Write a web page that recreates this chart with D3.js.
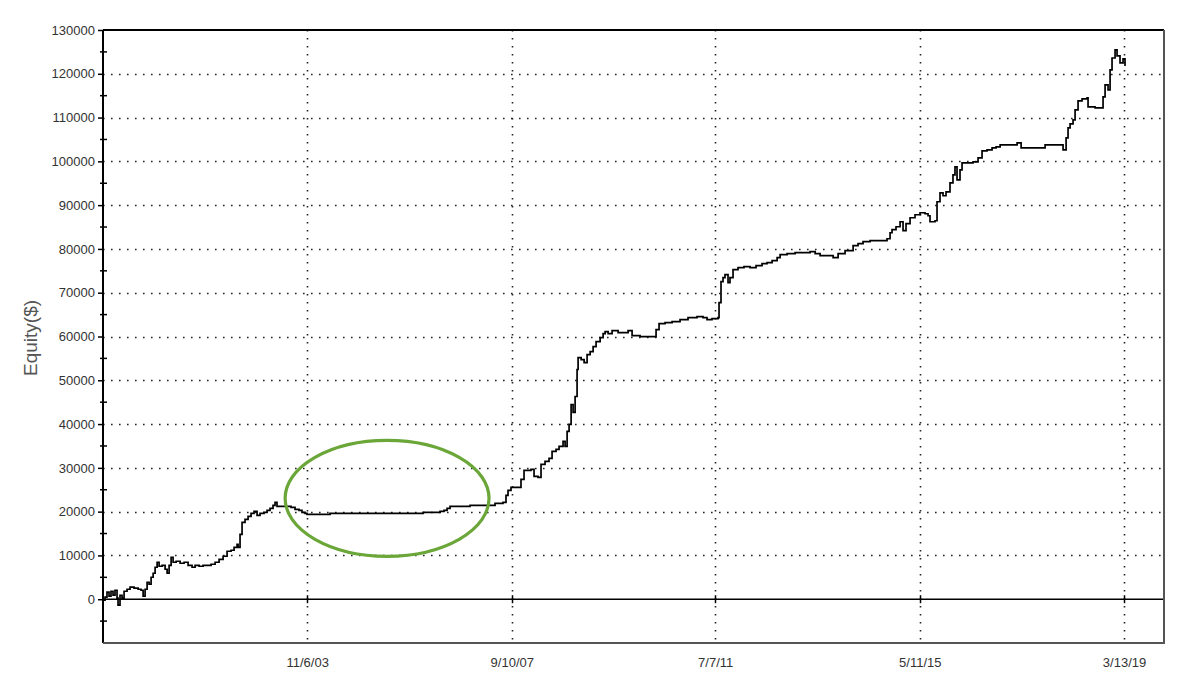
<!DOCTYPE html>
<html>
<head>
<meta charset="utf-8">
<script src="https://cdn.jsdelivr.net/npm/d3@7"></script>
<style>
  html, body { margin: 0; padding: 0; background: #fff; }
  svg { display: block; }
  text { font-family: "Liberation Sans", Arial, sans-serif; }
</style>
</head>
<body>
<svg id="chart" width="1196" height="683"></svg>
<script>
// ---- data (decimal years and equity in $) ----
const years = [
  2000.010, 2000.048, 2000.085, 2000.123, 2000.160, 2000.198, 2000.235, 2000.273, 2000.292, 2000.329,
  2000.367, 2000.405, 2000.461, 2000.517, 2000.592, 2000.668, 2000.724, 2000.762, 2000.799, 2000.837,
  2000.874, 2000.912, 2000.950, 2000.987, 2001.025, 2001.062, 2001.119, 2001.175, 2001.213, 2001.250,
  2001.288, 2001.325, 2001.382, 2001.457, 2001.532, 2001.607, 2001.682, 2001.739, 2001.814, 2001.889,
  2001.964, 2002.039, 2002.115, 2002.190, 2002.265, 2002.340, 2002.415, 2002.472, 2002.528, 2002.547,
  2002.584, 2002.622, 2002.678, 2002.735, 2002.791, 2002.847, 2002.904, 2002.960, 2003.035, 2003.092,
  2003.148, 2003.204, 2003.242, 2003.279, 2003.373, 2003.467, 2003.543, 2003.618, 2003.693, 2003.749,
  2003.806, 2003.843, 2004.275, 2004.651, 2005.027, 2005.403, 2005.779, 2006.023, 2006.342, 2006.417,
  2006.474, 2006.530, 2006.906, 2007.225, 2007.376, 2007.526, 2007.582, 2007.620, 2007.676, 2007.789,
  2007.864, 2007.921, 2008.052, 2008.109, 2008.184, 2008.240, 2008.315, 2008.390, 2008.447, 2008.522,
  2008.578, 2008.653, 2008.691, 2008.729, 2008.766, 2008.804, 2008.841, 2008.879, 2008.916, 2008.935,
  2008.992, 2009.048, 2009.104, 2009.161, 2009.217, 2009.273, 2009.349, 2009.405, 2009.443, 2009.499,
  2009.574, 2009.687, 2009.781, 2009.875, 2009.950, 2010.100, 2010.251, 2010.345, 2010.401, 2010.457,
  2010.570, 2010.702, 2010.852, 2011.002, 2011.171, 2011.284, 2011.359, 2011.453, 2011.566, 2011.585,
  2011.622, 2011.660, 2011.697, 2011.754, 2011.791, 2011.848, 2011.942, 2012.054, 2012.167, 2012.280,
  2012.393, 2012.487, 2012.581, 2012.675, 2012.731, 2012.862, 2013.013, 2013.163, 2013.295, 2013.389,
  2013.482, 2013.595, 2013.727, 2013.821, 2013.952, 2014.103, 2014.196, 2014.290, 2014.422, 2014.610,
  2014.741, 2014.798, 2014.835, 2014.910, 2014.986, 2015.042, 2015.098, 2015.174, 2015.267, 2015.361,
  2015.455, 2015.512, 2015.549, 2015.643, 2015.681, 2015.737, 2015.794, 2015.850, 2015.925, 2015.981,
  2016.019, 2016.057, 2016.113, 2016.151, 2016.263, 2016.357, 2016.451, 2016.526, 2016.620, 2016.714,
  2016.789, 2016.865, 2017.015, 2017.184, 2017.259, 2017.428, 2017.616, 2017.710, 2017.898, 2017.992,
  2018.048, 2018.105, 2018.142, 2018.180, 2018.236, 2018.274, 2018.330, 2018.405, 2018.499, 2018.518,
  2018.650, 2018.781, 2018.800, 2018.838, 2018.894, 2018.932, 2018.969, 2019.026, 2019.063, 2019.119,
  2019.176, 2019.213
];
const equity = [
  -230, 460, 1600, 680, 1820, 910, 2050, 230, -1370, 910,
  230, 1820, 2280, 2740, 2510, 2280, 2050, 680, 2280, 3880,
  3420, 5020, 5930, 7300, 8440, 7530, 7750, 6840, 5930, 7750,
  9580, 8440, 8670, 8210, 8440, 7750, 7300, 7750, 7530, 7750,
  7750, 7980, 8440, 9120, 9810, 10950, 11180, 11860, 12540, 11860,
  14820, 17560, 18250, 18930, 19610, 20070, 19160, 19610, 19840, 20300,
  20750, 21440, 22120, 21210, 21210, 21210, 20980, 20530, 20300, 19840,
  19610, 19390, 19610, 19610, 19610, 19610, 19610, 19840, 20070, 20300,
  20750, 21210, 21440, 21440, 21890, 22120, 23720, 24860, 25540, 25540,
  27370, 29420, 29650, 28050, 27820, 30790, 31470, 32160, 33750, 34210,
  34890, 36040, 34890, 38320, 39910, 44470, 42650, 46300, 52460, 55190,
  54740, 54050, 55880, 56560, 57700, 58840, 59760, 60670, 61120, 60670,
  61350, 60900, 60900, 61350, 60210, 59980, 59980, 59980, 61580, 62950,
  63180, 63400, 63860, 64320, 64540, 64320, 63860, 64090, 64320, 67740,
  72530, 73440, 74120, 72300, 73440, 75260, 75720, 75950, 75720, 76170,
  76630, 76860, 77320, 78000, 78680, 78910, 79140, 79140, 79370, 78910,
  78460, 78460, 78000, 78910, 79600, 80740, 81190, 81650, 81880, 81880,
  82330, 83700, 84390, 85070, 86210, 84160, 85760, 87120, 87810, 88260,
  88040, 87580, 86210, 86440, 90770, 92820, 92140, 93050, 95100, 96930,
  98750, 95790, 98070, 99670, 99670, 99890, 100810, 102400, 102630, 103090,
  103320, 103770, 103770, 104230, 103090, 103090, 103090, 103770, 103770, 103770,
  102630, 105370, 107650, 108560, 109470, 111750, 113810, 114260, 114490, 112440,
  112210, 112210, 114720, 117460, 116320, 120880, 123610, 125440, 124070, 122470,
  123390, 121790
];
const yTickValues = [0, 10000, 20000, 30000, 40000, 50000, 60000, 70000, 80000, 90000, 100000, 110000, 120000, 130000];
const yMinorValues = [-5000, 5000, 15000, 25000, 35000, 45000, 55000, 65000, 75000, 85000, 95000, 105000, 115000, 125000];
const xTickDates = ["2003-11-06", "2007-09-10", "2011-07-07", "2015-05-11", "2019-03-13"];
const xTickLabels = ["11/6/03", "9/10/07", "7/7/11", "5/11/15", "3/13/19"];
const yDomain = [-10000, 130000];
const xDomainYears = [2000.01, 2019.946];
const yLabel = "Equity($)";
// highlight ellipse (center in decimal years / $, radii in years / $)
const ellipseCenter = [2005.346, 23035];
const ellipseRadii = [1.917, 13230];

// ---- helpers ----
function yearToDate(y) {
  const yr = Math.floor(y);
  const start = Date.UTC(yr, 0, 1), end = Date.UTC(yr + 1, 0, 1);
  return new Date(start + (y - yr) * (end - start));
}
const parseDate = d3.utcParse("%Y-%m-%d");

// ---- layout ----
const svg = d3.select("#chart");
const L = 103, R = 1164, T = 30, B = 643;

const x = d3.scaleUtc().domain(xDomainYears.map(yearToDate)).range([L, R]);
const y = d3.scaleLinear().domain(yDomain).range([B, T]);

const points = years.map((yr, i) => ({ date: yearToDate(yr), value: equity[i] }));

// background
svg.append("rect").attr("x", 0).attr("y", 0).attr("width", 1196).attr("height", 683).attr("fill", "#fff");

// horizontal dotted grid
svg.append("g").selectAll("line")
  .data(yTickValues.filter(v => v !== 0 && v !== 130000))
  .join("line")
  .attr("x1", L).attr("x2", R)
  .attr("y1", d => Math.round(y(d)) + 0.5).attr("y2", d => Math.round(y(d)) + 0.5)
  .attr("stroke", "#222").attr("stroke-width", 1.6)
  .attr("stroke-dasharray", "1.6,6.4");

// vertical dotted grid
const tickDates = xTickDates.map(parseDate);
svg.append("g").selectAll("line")
  .data(tickDates)
  .join("line")
  .attr("x1", d => Math.round(x(d)) + 0.5).attr("x2", d => Math.round(x(d)) + 0.5)
  .attr("y1", T).attr("y2", B)
  .attr("stroke", "#222").attr("stroke-width", 1.6)
  .attr("stroke-dasharray", "1.6,6.4");

// zero line
svg.append("line")
  .attr("x1", L).attr("x2", R)
  .attr("y1", y(0)).attr("y2", y(0))
  .attr("stroke", "#000").attr("stroke-width", 1.5);

// date tick marks on zero line
svg.append("g").selectAll("line")
  .data(tickDates)
  .join("line")
  .attr("x1", d => Math.round(x(d)) + 0.5).attr("x2", d => Math.round(x(d)) + 0.5)
  .attr("y1", y(0) - 4).attr("y2", y(0) + 4)
  .attr("stroke", "#000").attr("stroke-width", 1.5);

// equity line
const line = d3.line()
  .x(d => x(d.date))
  .y(d => y(d.value))
  .curve(d3.curveStepAfter);
svg.append("path")
  .datum(points)
  .attr("fill", "none")
  .attr("stroke", "#000")
  .attr("stroke-width", 1.7)
  .attr("stroke-linejoin", "miter")
  .attr("d", line);

// frame
svg.append("line").attr("x1", L).attr("x2", R).attr("y1", T).attr("y2", T).attr("stroke", "#000").attr("stroke-width", 2);
svg.append("line").attr("x1", L).attr("x2", L).attr("y1", T).attr("y2", B).attr("stroke", "#000").attr("stroke-width", 2);
svg.append("line").attr("x1", R).attr("x2", R).attr("y1", T).attr("y2", B + 1).attr("stroke", "#555").attr("stroke-width", 2);
svg.append("line").attr("x1", L).attr("x2", R).attr("y1", B).attr("y2", B).attr("stroke", "#555").attr("stroke-width", 2);

// y axis (major ticks + labels)
const yAxis = d3.axisLeft(y)
  .tickValues(yTickValues)
  .tickSize(5)
  .tickPadding(3)
  .tickFormat(d3.format("d"));
const gy = svg.append("g").attr("transform", `translate(${L},0)`).call(yAxis);
gy.select(".domain").remove();
gy.selectAll(".tick line").attr("stroke", "#000").attr("stroke-width", 1.5);
gy.selectAll(".tick text")
  .attr("fill", "#333")
  .style("font-size", "13px")
  .style("font-family", "'Liberation Sans', Arial, sans-serif");

// y minor ticks (crossing the axis)
svg.append("g").selectAll("line")
  .data(yMinorValues)
  .join("line")
  .attr("x1", L - 3).attr("x2", L + 4)
  .attr("y1", d => y(d)).attr("y2", d => y(d))
  .attr("stroke", "#000").attr("stroke-width", 1.5);

// x axis labels
const xAxis = d3.axisBottom(x)
  .tickValues(tickDates)
  .tickSize(0)
  .tickPadding(15)
  .tickFormat((d, i) => xTickLabels[i]);
const gx = svg.append("g").attr("transform", `translate(0,${B})`).call(xAxis);
gx.select(".domain").remove();
gx.selectAll(".tick text")
  .attr("fill", "#333")
  .style("font-size", "13px")
  .style("font-family", "'Liberation Sans', Arial, sans-serif");

// y axis title
svg.append("text")
  .attr("transform", `translate(37,376) rotate(-90)`)
  .attr("text-anchor", "start")
  .attr("fill", "#555")
  .style("font-size", "19px")
  .text(yLabel);

// highlight ellipse
const ecx = x(yearToDate(ellipseCenter[0]));
const ecy = y(ellipseCenter[1]);
const erx = x(yearToDate(ellipseCenter[0] + ellipseRadii[0])) - ecx;
const ery = ecy - y(ellipseCenter[1] + ellipseRadii[1]);
svg.append("ellipse")
  .attr("cx", ecx).attr("cy", ecy)
  .attr("rx", erx).attr("ry", ery)
  .attr("fill", "none")
  .attr("stroke", "#6aa638")
  .attr("stroke-width", 3.2);
</script>
</body>
</html>
